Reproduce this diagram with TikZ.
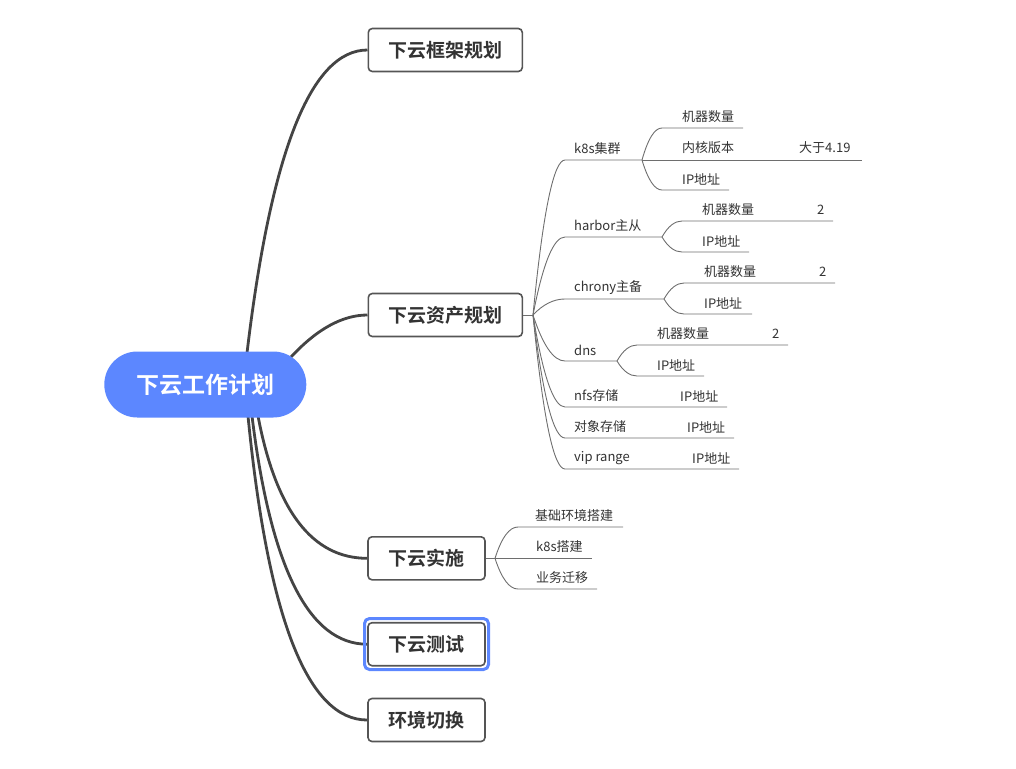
\documentclass[tikz,border=0pt]{standalone}
\usepackage{fontspec}
\setmainfont{Noto Sans CJK SC}[BoldFont={Noto Sans CJK SC Bold}]
\usetikzlibrary{calc,backgrounds}
\definecolor{rootblue}{HTML}{5C87FF}
\definecolor{mainline}{HTML}{444444}
\definecolor{boxline}{HTML}{555555}
\definecolor{thinline}{HTML}{6E6E6E}
\definecolor{txt}{HTML}{333333}
\newcommand\qcurve[3]{(#1) .. controls ($(#1)!0.6667!(#2)$) and ($(#3)!0.6667!(#2)$) .. (#3)}
\begin{document}
\begin{tikzpicture}[x=1pt,y=-1pt,
  topbox/.style={draw=boxline, line width=1.6pt, rounded corners=4pt, fill=white, text=txt,
    font=\fontsize{19}{22}\selectfont\bfseries, minimum height=43pt, inner sep=0pt},
  leaf/.style={anchor=west, inner sep=0pt, text=txt, font=\fontsize{13}{15}\selectfont},
  mainconn/.style={draw=mainline, line width=2.8pt},
  subconn/.style={draw=thinline, line width=0.9pt}]
\useasboundingbox (0,0) rectangle (1016,768);

% root
\node[fill=rootblue, rounded corners=33pt, minimum width=202pt, minimum height=66pt,
  inner sep=0pt, text=white, font=\fontsize{23}{26}\selectfont\bfseries] (root) at (205.3,384.5) {下云工作计划};

% first level
\node[topbox, minimum width=154pt] (a1) at (445.3,50) {下云框架规划};
\node[topbox, minimum width=154pt] (a2) at (445.3,315) {下云资产规划};
\node[topbox, minimum width=117pt] (a3) at (426.5,558.3) {下云实施};
\node[topbox, minimum width=117pt] (a4) at (426.5,644.2) {下云测试};
\node[topbox, minimum width=117pt] (a5) at (426.5,720) {环境切换};
\draw[draw=rootblue, line width=3pt, rounded corners=5pt] (364.5,618.5) rectangle (488.5,669.5);

% start points on the root
\coordinate (r1) at (247,353);
\coordinate (r2) at (291,357);
\coordinate (r3) at (258,416);
\coordinate (r4) at (252,416);
\coordinate (r5) at (248,416);

\begin{scope}[on background layer]
\draw[mainconn] \qcurve{r1}{283,50}{a1.west};
\draw[mainconn] \qcurve{r2}{330,315}{a2.west};
\draw[mainconn] \qcurve{r3}{285,558.3}{a3.west};
\draw[mainconn] \qcurve{r4}{280,644.2}{a4.west};
\draw[mainconn] \qcurve{r5}{278,720}{a5.west};
\end{scope}

% ---- 下云资产规划 branch
\coordinate (t2) at (533,315);
\draw[subconn] (a2.east) -- (t2);

\node[leaf] (k8s) at (574,149) {k8s集群};
\node[leaf] (harbor) at (574,226) {harbor主从};
\node[leaf] (chrony) at (574,288) {chrony主备};
\node[leaf] (dns) at (574,350) {dns};
\node[leaf] (nfs) at (574,396) {nfs存储};
\node[leaf] (obj) at (574,427) {对象存储};
\node[leaf] (vip) at (574,458) {vip range};

\coordinate (b1) at (642,160);
\coordinate (b2) at (662,237);
\coordinate (b3) at (664,299);
\coordinate (b4) at (617,361);
\coordinate (e5) at (727,407);
\coordinate (e6) at (734,438);
\coordinate (e7) at (739,469);

\draw[subconn] \qcurve{t2}{548,160}{565,160} -- (b1);
\draw[subconn] \qcurve{t2}{548,237}{565,237} -- (b2);
\draw[subconn] \qcurve{t2}{548,299}{565,299} -- (b3);
\draw[subconn] \qcurve{t2}{548,361}{565,361} -- (b4);
\draw[subconn] \qcurve{t2}{548,407}{565,407} -- (e5);
\draw[subconn] \qcurve{t2}{548,438}{565,438} -- (e6);
\draw[subconn] \qcurve{t2}{548,469}{565,469} -- (e7);

% k8s children
\node[leaf] (k1) at (682,117) {机器数量};
\node[leaf] (k2) at (682,148) {内核版本};
\node[leaf] (k2v) at (799,148) {大于4.19};
\node[leaf] (k3) at (682,179) {IP地址};
\draw[subconn] \qcurve{b1}{651,128}{662,128} -- (743,128);
\draw[subconn] (b1) -- (862,160);
\draw[subconn] \qcurve{b1}{651,190}{662,190} -- (729,190);

% harbor children
\node[leaf] (h1) at (702,210) {机器数量};
\node[leaf] (h1v) at (817,210) {2};
\node[leaf] (h2) at (702,241) {IP地址};
\draw[subconn] \qcurve{b2}{671,221}{682,221} -- (833,221);
\draw[subconn] \qcurve{b2}{671,252}{682,252} -- (749,252);

% chrony children
\node[leaf] (c1) at (704,272) {机器数量};
\node[leaf] (c1v) at (819,272) {2};
\node[leaf] (c2) at (704,303) {IP地址};
\draw[subconn] \qcurve{b3}{673,283}{684,283} -- (835,283);
\draw[subconn] \qcurve{b3}{673,314}{684,314} -- (752,314);

% dns children
\node[leaf] (d1) at (657,334) {机器数量};
\node[leaf] (d1v) at (772,334) {2};
\node[leaf] (d2) at (657,365) {IP地址};
\draw[subconn] \qcurve{b4}{626,345}{637,345} -- (788,345);
\draw[subconn] \qcurve{b4}{626,376}{637,376} -- (704,376);

% single-value children
\node[leaf] (nfsip) at (680,396) {IP地址};
\node[leaf] (objip) at (687,427) {IP地址};
\node[leaf] (vipip) at (692,458) {IP地址};

% ---- 下云实施 branch
\coordinate (t3) at (495,558.3);
\draw[subconn] (a3.east) -- (t3);
\node[leaf] (s1) at (535,516) {基础环境搭建};
\node[leaf] (s2) at (536,547) {k8s搭建};
\node[leaf] (s3) at (536,578) {业务迁移};
\draw[subconn] \qcurve{t3}{505,527}{518,527} -- (623,527);
\draw[subconn] (t3) -- (592,558.3);
\draw[subconn] \qcurve{t3}{505,589}{518,589} -- (597,589);
\end{tikzpicture}
\end{document}
